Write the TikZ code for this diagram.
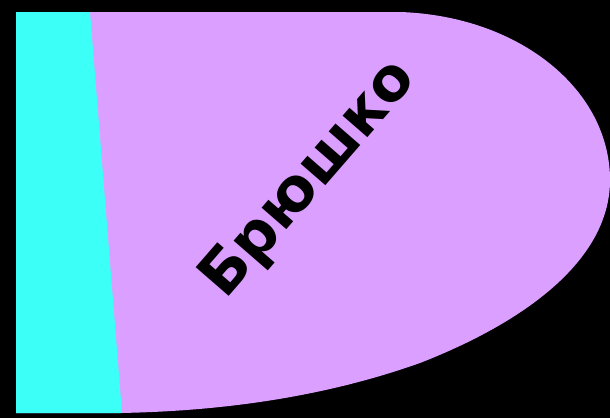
\documentclass[tikz,border=0pt]{standalone}
\usepackage{fontspec}
\newfontfamily\labelfont{DejaVu Sans}
\usetikzlibrary{positioning}
\definecolor{bodylilac}{HTML}{DB9FFF}
\definecolor{headcyan}{HTML}{3CFFF8}

\begin{document}
\begin{tikzpicture}[x=1pt, y=-1pt, lbl/.style={font=\labelfont\bfseries\fontsize{60}{60}\selectfont, text=black}]
% black ground, fixes the margins
\fill[black] (0,0) rectangle (610,418);
% the abdomen: flat on the left, rounded on the right
\fill[bodylilac] (16,12) -- (400,12) .. controls (520,16) and (610,90) .. (610,180)
    .. controls (610,255) and (535,318) .. (420,363)
    .. controls (330,395) and (230,411) .. (120,413) -- (16,413) -- cycle;
% cyan strip on the left edge
\fill[headcyan] (16,12) -- (90,12) -- (122,413) -- (16,413) -- cycle;
\node[lbl, rotate=49] (belly) at (310,180) {Брюшко};
\end{tikzpicture}
\end{document}
